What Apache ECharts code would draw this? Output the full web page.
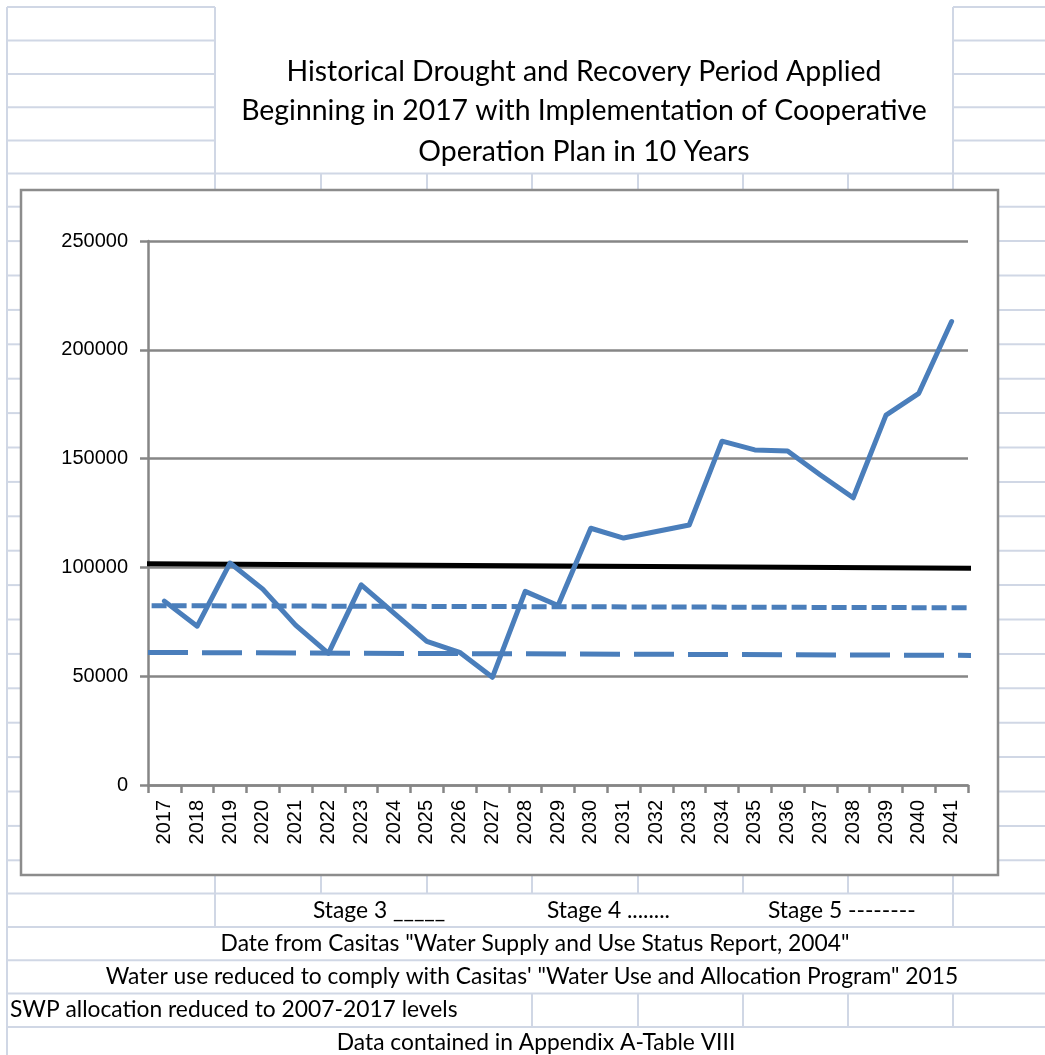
<!DOCTYPE html>
<html>
<head>
<meta charset="utf-8">
<script src="https://cdn.jsdelivr.net/npm/echarts@6/dist/echarts.min.js"></script>
<style>
  html, body { margin: 0; padding: 0; background: #fff; }
  #chart { width: 1045px; height: 1055px; }
</style>
</head>
<body>
<div id="chart"></div>
<script>
// years on the category axis
const years = ['2017', '2018', '2019', '2020', '2021', '2022', '2023', '2024', '2025',
  '2026', '2027', '2028', '2029', '2030', '2031', '2032', '2033', '2034', '2035',
  '2036', '2037', '2038', '2039', '2040', '2041'];

// lake storage
const storage = [84500, 73000, 102000, 90000, 73500, 60500, 92000, 79000, 66000,
  61000, 49500, 89000, 82500, 118000, 113500, 116500, 119500, 158000, 154000,
  153500, 142500, 132000, 170000, 180000, 213000];

// hand drawn stage lines: [category position, value]
const stage3 = [[-0.53, 101700], [25.23, 99600]];
const stage4 = [[-0.39, 82400], [25.71, 81400]];
const stage5 = [[-0.5, 60900], [25.58, 59500]];

const yTicks = { min: 0, max: 250000, step: 50000 };

const titleLines = [
  'Historical Drought and Recovery Period Applied',
  'Beginning in 2017 with Implementation of Cooperative',
  'Operation Plan in 10 Years'
];

const notes = {
  stage3: 'Stage 3 _____',
  stage4: 'Stage 4 ........',
  stage5: 'Stage 5 --------',
  source: 'Date from Casitas "Water Supply and Use Status Report, 2004"',
  reduced: 'Water use reduced to comply with Casitas\' "Water Use and Allocation Program" 2015',
  swp: 'SWP allocation reduced to 2007-2017 levels',
  appendix: 'Data contained in Appendix A-Table VIII'
};

// ---- spreadsheet cell lines behind the chart ----
const cellColor = '#d0d7e5';
const cols = [215, 321, 427, 532, 638, 743, 848, 953];
const sheet = [];
function seg(x1, y1, x2, y2) {
  sheet.push({
    type: 'line', silent: true, z: 0,
    shape: { x1: x1, y1: y1, x2: x2, y2: y2 },
    style: { stroke: cellColor, lineWidth: 2 }
  });
}
seg(7, 7, 7, 1055);
[7, 40.5, 74, 107.3, 140.5].forEach(function (y) {
  seg(7, y, 215, y);
  seg(953, y, 1045, y);
});
seg(7, 173.5, 1045, 173.5);
for (let k = 0; k < 20; k++) {
  const y = 206.7 + 34.4 * k;
  seg(7, y, 21, y);
  seg(998, y, 1045, y);
}
[893.5, 927, 960.3, 993.5, 1027].forEach(function (y) { seg(7, y, 1045, y); });
seg(215, 7, 215, 190);
seg(953, 7, 953, 190);
cols.forEach(function (x) {
  seg(x, 173.5, x, 190);
  seg(x, 875, x, 893.5);
});
seg(215, 893.5, 215, 927);
seg(953, 893.5, 953, 927);
[532, 638, 743, 848, 953].forEach(function (x) { seg(x, 993.5, x, 1027); });

function txt(str, x, y, align, size) {
  return {
    type: 'text', silent: true, z: 5, x: x, y: y,
    style: {
      text: str, fill: '#000', font: size + 'px Lato',
      textAlign: align, textVerticalAlign: 'middle'
    }
  };
}

const texts = [
  txt(titleLines[0], 584, 72, 'center', 28.4),
  txt(titleLines[1], 584, 111, 'center', 28.4),
  txt(titleLines[2], 584, 152, 'center', 28.4),
  txt(notes.stage3, 313, 911, 'left', 22.8),
  txt(notes.stage4, 547, 911, 'left', 22.8),
  txt(notes.stage5, 768, 911, 'left', 22.8),
  txt(notes.source, 535, 944, 'center', 22.8),
  txt(notes.reduced, 532, 977, 'center', 22.8),
  txt(notes.swp, 10, 1010, 'left', 22.8),
  txt(notes.appendix, 536, 1043, 'center', 22.8)
];

const chartBox = {
  type: 'rect', silent: true, z: 1,
  shape: { x: 21, y: 190, width: 977, height: 685 },
  style: { fill: '#fff', stroke: '#8c8c8c', lineWidth: 2.5 }
};

const chart = echarts.init(document.getElementById('chart'));
chart.setOption({
  backgroundColor: '#fff',
  animation: false,
  graphic: { elements: sheet.concat([chartBox]).concat(texts) },
  grid: { left: 148, top: 241, width: 820, height: 544, outerBoundsMode: 'none' },
  xAxis: [
    {
      type: 'category',
      data: years,
      z: 5,
      axisLine: { lineStyle: { color: '#868686', width: 2.5 } },
      axisTick: { show: true, interval: 0, length: 8, lineStyle: { color: '#868686', width: 2.5 } },
      axisLabel: {
        interval: 0, rotate: 90, margin: 15, color: '#000',
        fontSize: 20, fontFamily: 'Liberation Sans'
      },
      splitLine: { show: false }
    },
    {
      type: 'value', show: false, min: -0.5, max: 24.5,
      splitLine: { show: false }
    }
  ],
  yAxis: {
    type: 'value',
    z: 5,
    min: yTicks.min, max: yTicks.max, interval: yTicks.step,
    axisLine: { show: true, onZero: false, lineStyle: { color: '#868686', width: 2.5 } },
    axisTick: { show: true, length: 8, lineStyle: { color: '#868686', width: 2.5 } },
    axisLabel: {
      margin: 20, color: '#000', fontSize: 20, fontFamily: 'Liberation Sans',
      formatter: function (v) { return String(v); }
    },
    splitLine: { lineStyle: { color: '#868686', width: 2.5 } }
  },
  series: [
    {
      name: 'Stage 3', type: 'line', xAxisIndex: 1, data: stage3, clip: false,
      showSymbol: false, z: 8,
      lineStyle: { color: '#000', width: 5 }
    },
    {
      name: 'Stage 4', type: 'line', xAxisIndex: 1, data: stage4, clip: false,
      showSymbol: false, z: 8,
      lineStyle: { color: '#4a7ebb', width: 5, type: [15, 5], cap: 'butt' }
    },
    {
      name: 'Stage 5', type: 'line', xAxisIndex: 1, data: stage5, clip: false,
      showSymbol: false, z: 8,
      lineStyle: { color: '#4a7ebb', width: 5, type: [40, 14], cap: 'butt' }
    },
    {
      name: 'Storage', type: 'line', data: storage,
      showSymbol: false, z: 9,
      lineStyle: { color: '#4a7ebb', width: 5, join: 'round', cap: 'round' }
    }
  ]
});
</script>
</body>
</html>
